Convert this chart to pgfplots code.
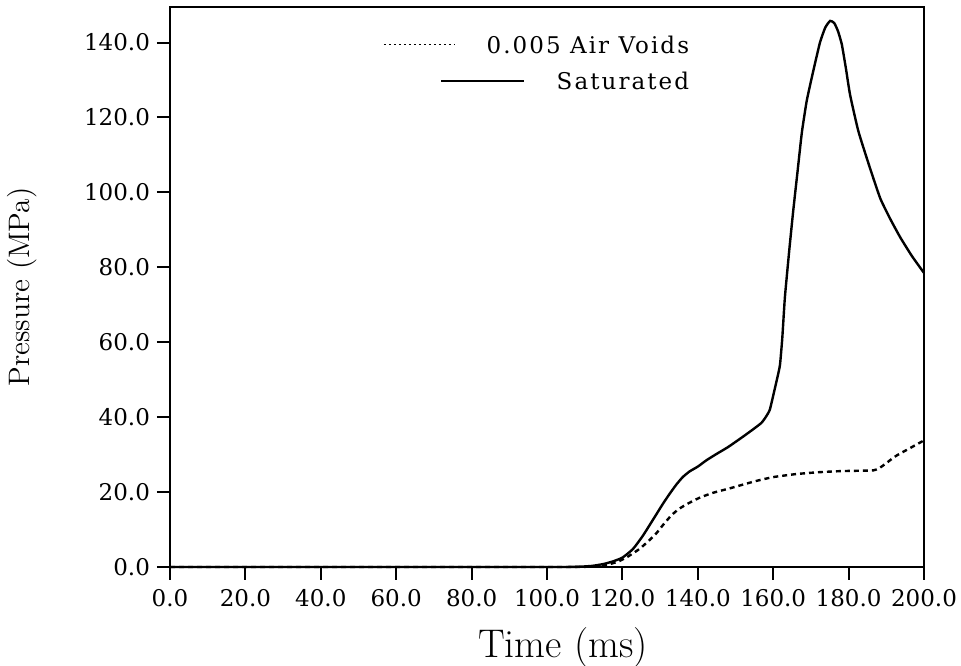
\documentclass[border=0pt]{standalone}
\usepackage{fontspec}
\usepackage{pgfplots}
\pgfplotsset{compat=1.18}
\newfontfamily\tickfont{DejaVu Serif}
\newfontfamily\legfont[LetterSpace=9]{DejaVu Serif}
\pgfplotstableread{
x y
0 0
100 0
108 0.05
112 0.3
115 0.8
117.5 1.5
120 2.5
122.8 4.8
125.4 8.3
128.1 12.6
130.7 16.8
132.5 19.5
134.3 22
136 24
137.8 25.5
140 26.8
142.3 28.5
145 30.2
148 32
152 34.8
155 37
156.9 38.5
158 40
159.1 42
160.4 47.5
161.2 51
161.8 54
162.4 61
163.1 72
164.3 85
165.3 95
166.5 106
167.6 116
168.9 124.5
170.6 132.3
172.4 140
173.8 144
175.1 145.8
176.2 145.2
177.2 143
178.2 139.5
179.3 133
180.4 126
182.6 116.3
185.7 106.4
188.4 98.4
191 93
193.7 88
196.8 83
200 78.5
}\saturated
\pgfplotstableread{
x y
0 0
100 0
112 0.1
116 0.6
119 1.5
121.5 2.8
124.5 4.8
127 7
129 9
131 11.5
133 13.8
135 15.5
137.5 17
140.5 18.5
144 19.8
148.5 21
152 22
155.6 23
160 24
166 24.8
172 25.3
178 25.6
183 25.7
186.6 25.8
188 26.3
189.3 27.2
191 28.5
192.8 29.8
196.4 31.8
200 33.8
}\airvoids
\begin{document}
\begin{tikzpicture}
\begin{axis}[name=ax, scale only axis, width=377pt, height=280pt,
  xmin=0, xmax=200, ymin=0, ymax=149.5,
  xtick={0,20,...,200}, ytick={0,20,...,140},
  xtick pos=bottom, ytick pos=left,
  tick align=outside,
  major tick length=6.5pt,
  axis line style={line width=1.1pt},
  major tick style={black, line width=1pt},
  tick label style={font=\fontsize{11.5}{13}\tickfont},
  xticklabel style={yshift=-1pt},
  /pgf/number format/.cd, fixed, fixed zerofill, precision=1, assume math mode=true, /pgfplots/.cd,
  xlabel={\fontsize{20}{22}\selectfont Time (ms)},
  ylabel={\fontsize{14.8}{17}\selectfont Pressure (MPa)},
  xlabel style={at={(axis description cs:0.5,0)}, anchor=center, yshift=-40.5pt, xshift=8pt},
  ylabel style={at={(axis description cs:-0.1963,0.5)}, anchor=center},
  clip=false,
]
\addplot[black, line width=1.2pt, smooth, tension=0.3] table[x=x,y=y] {\saturated};
\addplot[black, line width=1.2pt, dash pattern=on 2.5pt off 2pt, smooth, tension=0.3] table[x=x,y=y] {\airvoids};
\pgfplotsinvokeforeach{0,20,40,60,80,100,120,140,160,180,200}{
  \draw[black, line width=1pt] (axis cs:#1,0) -- ++(0pt,-6.5pt);
}
\pgfplotsinvokeforeach{0,20,40,60,80,100,120,140}{
  \draw[black, line width=1pt] (axis cs:0,#1) -- ++(-6.5pt,0pt);
}
\draw[black, line width=0.8pt, dash pattern=on 1pt off 1.5pt] (axis cs:56.7,139.5) -- (axis cs:75.3,139.5);
\node[anchor=east, font=\fontsize{11.5}{13}\legfont, inner sep=0pt] at (axis cs:137.8,139.5) {0.005 Air Voids};
\draw[black, line width=0.8pt] (axis cs:71.9,129.8) -- (axis cs:94,129.8);
\node[anchor=east, font=\fontsize{11.5}{13}\legfont, inner sep=0pt] at (axis cs:137.8,129.8) {Saturated};
\end{axis}
\pgfresetboundingbox
\path ([xshift=-85pt,yshift=-49.5pt]ax.south west) rectangle ([xshift=18.5pt,yshift=3.5pt]ax.north east);
\end{tikzpicture}
\end{document}
